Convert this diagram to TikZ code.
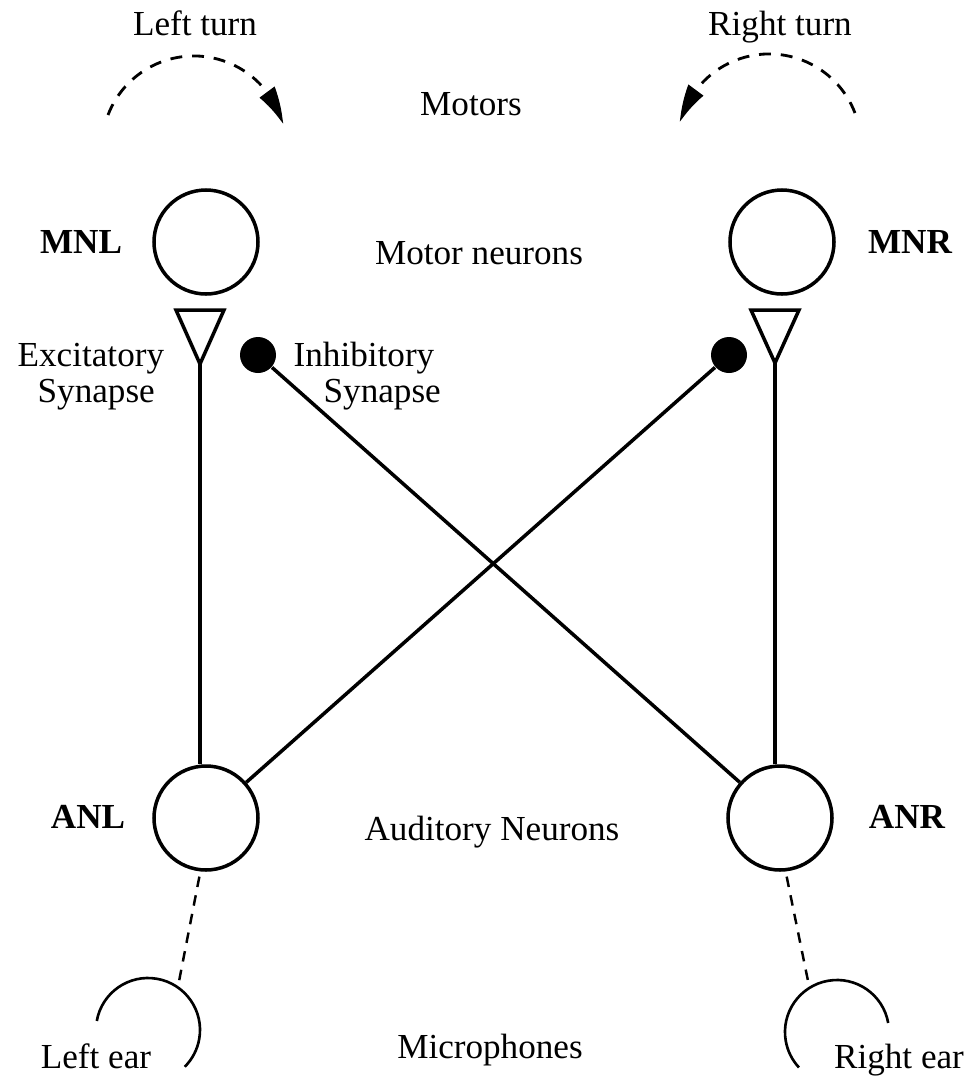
\documentclass[tikz,border=0pt]{standalone}
\usepackage{fontspec}
\setmainfont{Liberation Serif}
\usetikzlibrary{arrows.meta,bending}

\tikzset{
  neuron/.style={draw, circle, line width=1pt, minimum size=1.04cm, inner sep=0pt},
  inhib/.style={fill, circle, minimum size=0.36cm, inner sep=0pt},
  wire/.style={line width=1pt},
  ear/.style={line width=0.75pt},
  link/.style={dash pattern=on 3pt off 2.4pt, line width=0.7pt},
  turn/.style={dash pattern=on 3.4pt off 2.8pt, line width=0.8pt, -{Triangle[length=0.36cm,width=0.18cm,bend]}},
  lbl/.style={anchor=base, inner sep=0pt, font=\fontsize{10}{10}\selectfont},
  nrnlbl/.style={anchor=base, inner sep=0pt, font=\fontsize{10}{10}\selectfont\bfseries},
}

\begin{document}
\begin{tikzpicture}
    \useasboundingbox (0,0) rectangle (9.71,-10.76);

    \node[neuron] (MNL) at (2.06,-2.42) {};
    \node[neuron] (MNR) at (7.82,-2.42) {};
    \node[neuron] (ANL) at (2.06,-8.18) {};
    \node[neuron] (ANR) at (7.80,-8.18) {};

    \coordinate (exL) at (2.00,-3.64);
    \coordinate (exR) at (7.75,-3.63);
    \draw[wire] (exL) -- ++(-0.24,0.54) -- ++(0.48,0) -- cycle;
    \draw[wire] (exR) -- ++(-0.24,0.53) -- ++(0.48,0) -- cycle;
    \node[inhib] (inL) at (2.58,-3.55) {};
    \node[inhib] (inR) at (7.29,-3.55) {};

    \draw[wire] (exL) -- (exL |- ANL.north);
    \draw[wire] (exR) -- (exR |- ANR.north);
    \draw[wire] (inL) -- (ANR);
    \draw[wire] (inR) -- (ANL);

    \coordinate (earL) at (1.48,-10.30);
    \coordinate (earR) at (8.37,-10.32);
    \draw[ear] (earL) ++(170:0.52) arc[start angle=170, end angle=-45, radius=0.52];
    \draw[ear] (earR) ++(10:0.52) arc[start angle=10, end angle=223, radius=0.52];
    \path (earL) ++(55:0.52) coordinate (micL);
    \path (earR) ++(122:0.52) coordinate (micR);
    \draw[link, shorten <=1.5pt] (ANL.264) -- (micL);
    \draw[link, shorten <=1.5pt] (ANR.276) -- (micR);

    \coordinate (turnL) at (1.08,-1.15);
    \coordinate (turnR) at (8.55,-1.13);
    \draw[turn] (turnL) arc[start angle=159, end angle=15, radius=0.92];
    \draw[turn] (turnR) arc[start angle=21, end angle=165, radius=0.92];

    \node[lbl] (lturn) at (1.95,-0.35) {Left turn};
    \node[lbl] (rturn) at (7.80,-0.35) {Right turn};
    \node[lbl] (motors) at (4.71,-1.15) {Motors};
    \node[lbl] (mneurons) at (4.79,-2.64) {Motor neurons};
    \node[lbl] (aneurons) at (4.92,-8.40) {Auditory Neurons};
    \node[lbl] (mics) at (4.90,-10.58) {Microphones};
    \node[lbl] (lear) at (0.96,-10.68) {Left ear};
    \node[lbl] (rear) at (8.99,-10.68) {Right ear};
    \node[nrnlbl] (mnl) at (0.81,-2.53) {MNL};
    \node[nrnlbl] (mnr) at (9.10,-2.53) {MNR};
    \node[nrnlbl] (anl) at (0.88,-8.28) {ANL};
    \node[nrnlbl] (anr) at (9.07,-8.28) {ANR};
    \node[lbl, anchor=base west, align=left] (exlbl) at (0.17,-4.02) {Excitatory\\\hspace*{0.2cm}Synapse};
    \node[lbl, anchor=base west, align=left] (inlbl) at (2.93,-4.02) {Inhibitory\\\hspace*{0.3cm}Synapse};
\end{tikzpicture}
\end{document}
